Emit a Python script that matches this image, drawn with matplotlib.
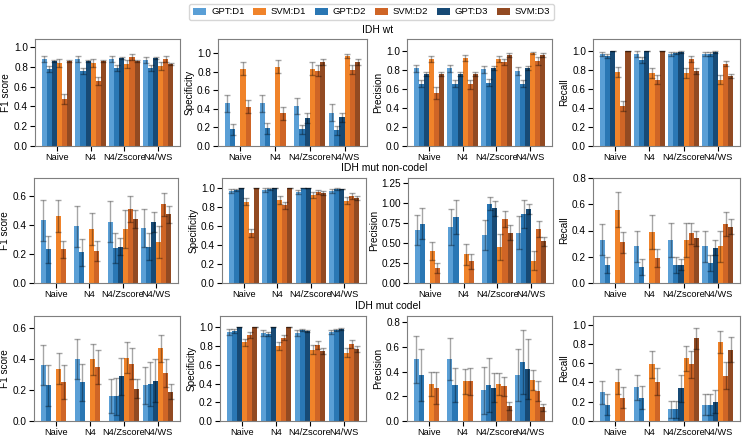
import numpy as np
import matplotlib
matplotlib.use("Agg")
from matplotlib import pyplot as plt
from matplotlib.ticker import MultipleLocator

plt.rcParams['font.family'] = ['Liberation Sans', 'DejaVu Sans']
plt.rcParams['font.size'] = 7.2
plt.rcParams['xtick.labelsize'] = 6.7
plt.rcParams['xtick.major.size'] = 3.5
plt.rcParams['ytick.major.size'] = 3.5
plt.rcParams['xtick.major.pad'] = 1.5
plt.rcParams['ytick.major.pad'] = 1.5

methods = ['Naive', 'N4', 'N4/Zscore', 'N4/WS']
series = ['GPT:D1', 'GPT:D2', 'GPT:D3', 'SVM:D1', 'SVM:D2', 'SVM:D3']
colors = ['#5a9fd6', '#2a77b4', '#174a75', '#f0832a', '#cf6526', '#924a22']
metrics = ['F1 score', 'Specificity', 'Precision', 'Recall']
row_titles = ['IDH wt', 'IDH mut non-codel', 'IDH mut codel']

# rows = methods, columns = series (GPT D1..D3, SVM D1..D3)
wt_f1 = [[0.88, 0.78, 0.86, 0.84, 0.47, 0.86],
         [0.88, 0.76, 0.86, 0.84, 0.66, 0.86],
         [0.88, 0.79, 0.89, 0.83, 0.90, 0.86],
         [0.87, 0.79, 0.89, 0.81, 0.88, 0.83]]
wt_f1_err = [[0.03, 0.03, 0.01, 0.04, 0.05, 0.01],
             [0.03, 0.03, 0.01, 0.04, 0.04, 0.01],
             [0.03, 0.03, 0.01, 0.04, 0.03, 0.01],
             [0.03, 0.03, 0.01, 0.04, 0.03, 0.01]]
wt_spec = [[0.46, 0.18, 0.00, 0.83, 0.42, 0.00],
           [0.46, 0.19, 0.00, 0.85, 0.35, 0.00],
           [0.43, 0.18, 0.30, 0.83, 0.81, 0.90],
           [0.36, 0.17, 0.31, 0.97, 0.82, 0.90]]
wt_spec_err = [[0.09, 0.06, 0.00, 0.07, 0.07, 0.00],
               [0.09, 0.06, 0.00, 0.07, 0.07, 0.00],
               [0.09, 0.05, 0.05, 0.07, 0.06, 0.03],
               [0.09, 0.05, 0.05, 0.02, 0.05, 0.03]]
wt_prec = [[0.82, 0.66, 0.76, 0.92, 0.56, 0.76],
           [0.82, 0.66, 0.76, 0.93, 0.65, 0.76],
           [0.81, 0.67, 0.82, 0.92, 0.89, 0.96],
           [0.79, 0.66, 0.82, 0.98, 0.90, 0.96]]
wt_prec_err = [[0.04, 0.04, 0.02, 0.03, 0.06, 0.02],
               [0.04, 0.04, 0.02, 0.03, 0.05, 0.02],
               [0.04, 0.04, 0.02, 0.03, 0.03, 0.02],
               [0.04, 0.04, 0.02, 0.01, 0.04, 0.02]]
wt_rec = [[0.97, 0.95, 1.00, 0.78, 0.42, 1.00],
          [0.97, 0.91, 1.00, 0.77, 0.70, 1.00],
          [0.97, 0.98, 0.99, 0.77, 0.92, 0.79],
          [0.97, 0.97, 0.99, 0.70, 0.87, 0.74]]
wt_rec_err = [[0.02, 0.02, 0.00, 0.05, 0.05, 0.00],
              [0.03, 0.03, 0.00, 0.05, 0.05, 0.00],
              [0.02, 0.01, 0.01, 0.05, 0.03, 0.03],
              [0.02, 0.02, 0.01, 0.05, 0.03, 0.02]]

nc_f1 = [[0.43, 0.23, 0.00, 0.46, 0.23, 0.00],
         [0.39, 0.21, 0.00, 0.37, 0.22, 0.00],
         [0.42, 0.24, 0.25, 0.37, 0.51, 0.44],
         [0.38, 0.25, 0.42, 0.28, 0.54, 0.47]]
nc_f1_err = [[0.14, 0.09, 0.00, 0.11, 0.06, 0.00],
             [0.14, 0.09, 0.00, 0.11, 0.07, 0.00],
             [0.14, 0.10, 0.06, 0.13, 0.09, 0.06],
             [0.13, 0.09, 0.07, 0.11, 0.08, 0.06]]
nc_spec = [[0.97, 0.98, 1.00, 0.86, 0.53, 1.00],
           [0.98, 0.99, 1.00, 0.88, 0.82, 1.00],
           [0.96, 1.00, 1.00, 0.93, 0.96, 0.95],
           [0.97, 0.99, 0.99, 0.87, 0.92, 0.90]]
nc_spec_err = [[0.02, 0.01, 0.00, 0.04, 0.04, 0.00],
               [0.02, 0.01, 0.00, 0.04, 0.04, 0.00],
               [0.02, 0.00, 0.00, 0.03, 0.02, 0.02],
               [0.02, 0.01, 0.00, 0.04, 0.03, 0.02]]
nc_prec = [[0.66, 0.74, 0.00, 0.40, 0.19, 0.00],
           [0.70, 0.82, 0.00, 0.36, 0.27, 0.00],
           [0.60, 0.99, 0.93, 0.45, 0.80, 0.63],
           [0.63, 0.86, 0.92, 0.28, 0.67, 0.52]]
nc_prec_err = [[0.19, 0.19, 0.00, 0.11, 0.06, 0.00],
               [0.22, 0.21, 0.00, 0.13, 0.09, 0.00],
               [0.19, 0.08, 0.09, 0.16, 0.10, 0.09],
               [0.21, 0.17, 0.06, 0.12, 0.10, 0.06]]
nc_rec = [[0.33, 0.14, 0.00, 0.56, 0.31, 0.00],
          [0.28, 0.12, 0.00, 0.39, 0.19, 0.00],
          [0.33, 0.14, 0.14, 0.33, 0.38, 0.34],
          [0.28, 0.15, 0.27, 0.28, 0.45, 0.43]]
nc_rec_err = [[0.12, 0.06, 0.00, 0.13, 0.08, 0.00],
              [0.12, 0.06, 0.00, 0.13, 0.07, 0.00],
              [0.13, 0.06, 0.04, 0.13, 0.08, 0.06],
              [0.12, 0.06, 0.06, 0.12, 0.09, 0.06]]

cd_f1 = [[0.36, 0.23, 0.00, 0.34, 0.25, 0.00],
         [0.40, 0.25, 0.00, 0.40, 0.35, 0.00],
         [0.16, 0.16, 0.29, 0.41, 0.37, 0.21],
         [0.23, 0.24, 0.26, 0.47, 0.31, 0.19]]
cd_f1_err = [[0.13, 0.13, 0.00, 0.10, 0.11, 0.00],
             [0.13, 0.12, 0.00, 0.10, 0.11, 0.00],
             [0.11, 0.12, 0.12, 0.10, 0.10, 0.06],
             [0.12, 0.14, 0.14, 0.09, 0.09, 0.05]]
cd_spec = [[0.95, 0.96, 1.00, 0.84, 0.92, 1.00],
           [0.94, 0.93, 1.00, 0.80, 0.89, 1.00],
           [0.94, 0.97, 0.96, 0.76, 0.81, 0.75],
           [0.95, 0.97, 0.98, 0.73, 0.82, 0.77]]
cd_spec_err = [[0.03, 0.02, 0.00, 0.04, 0.03, 0.00],
               [0.03, 0.02, 0.00, 0.04, 0.03, 0.00],
               [0.03, 0.01, 0.01, 0.05, 0.04, 0.03],
               [0.02, 0.01, 0.01, 0.05, 0.04, 0.03]]
cd_prec = [[0.50, 0.37, 0.00, 0.30, 0.27, 0.00],
           [0.50, 0.29, 0.00, 0.32, 0.32, 0.00],
           [0.25, 0.29, 0.27, 0.30, 0.28, 0.12],
           [0.37, 0.48, 0.42, 0.33, 0.24, 0.11]]
cd_prec_err = [[0.19, 0.21, 0.00, 0.10, 0.13, 0.00],
               [0.17, 0.14, 0.00, 0.10, 0.11, 0.00],
               [0.19, 0.22, 0.12, 0.09, 0.08, 0.03],
               [0.21, 0.26, 0.24, 0.08, 0.08, 0.03]]
cd_rec = [[0.30, 0.17, 0.00, 0.41, 0.24, 0.00],
          [0.35, 0.24, 0.00, 0.59, 0.41, 0.00],
          [0.12, 0.12, 0.34, 0.65, 0.59, 0.86],
          [0.17, 0.17, 0.20, 0.82, 0.47, 0.74]]
cd_rec_err = [[0.12, 0.11, 0.00, 0.13, 0.11, 0.00],
              [0.13, 0.12, 0.00, 0.14, 0.14, 0.00],
              [0.09, 0.09, 0.14, 0.13, 0.14, 0.11],
              [0.11, 0.11, 0.12, 0.11, 0.14, 0.13]]

panels = [[(wt_f1, wt_f1_err), (wt_spec, wt_spec_err), (wt_prec, wt_prec_err), (wt_rec, wt_rec_err)],
          [(nc_f1, nc_f1_err), (nc_spec, nc_spec_err), (nc_prec, nc_prec_err), (nc_rec, nc_rec_err)],
          [(cd_f1, cd_f1_err), (cd_spec, cd_spec_err), (cd_prec, cd_prec_err), (cd_rec, cd_rec_err)]]
ytops = [[1.08, 1.15, 1.13, 1.13],
         [0.72, 1.11, 1.31, 0.80],
         [0.68, 1.12, 0.85, 1.09]]
ysteps = [[0.2, 0.2, 0.2, 0.2],
          [0.2, 0.2, 0.25, 0.2],
          [0.2, 0.2, 0.2, 0.2]]

W, H = 743, 438
fig = plt.figure(figsize=(W / 100, H / 100), dpi=100)

# axes boxes in pixels: (left, right) per row/col, (top, bottom) per row
col_px = [[(35, 180), (218, 367), (407, 552), (593, 740)],
          [(34, 178), (222, 366), (408, 553), (593, 740)],
          [(34, 180), (220, 366), (407, 552), (593, 740)]]
row_px = [(39, 146), (178, 283), (316, 421)]
title_xy = [(378, 30), (384, 168), (388, 306)]

x = np.arange(len(methods))
width = 0.15
handles = {}
for r in range(3):
    top, bot = row_px[r]
    for c in range(4):
        l, rt = col_px[r][c]
        ax = fig.add_axes([l / W, 1 - bot / H, (rt - l) / W, (bot - top) / H])
        vals = np.array(panels[r][c][0])
        errs = np.array(panels[r][c][1])
        for j, s in enumerate(series):
            e = np.where(vals[:, j] > 0, errs[:, j], np.nan)
            b = ax.bar(x + (j - 2.5) * width, vals[:, j], width, yerr=e,
                       color=colors[j], label=s, capsize=2,
                       error_kw=dict(ecolor='black', alpha=0.35, elinewidth=1, capthick=1))
            handles[s] = b
        ax.set_xticks(x)
        ax.set_xticklabels(methods)
        ax.set_ylim(0, ytops[r][c])
        ax.yaxis.set_major_locator(MultipleLocator(ysteps[r][c]))
        if ysteps[r][c] == 0.25:
            ax.yaxis.set_major_formatter('{x:.2f}')
        else:
            ax.yaxis.set_major_formatter('{x:.1f}')
        ax.set_ylabel(metrics[c], labelpad=2)
        for sp in ax.spines.values():
            sp.set_color('#7f7f7f')
    tx, ty = title_xy[r]
    fig.text(tx / W, 1 - ty / H, row_titles[r], ha='center', va='center', fontsize=7.5)

order = ['GPT:D1', 'SVM:D1', 'GPT:D2', 'SVM:D2', 'GPT:D3', 'SVM:D3']
fig.legend([handles[s] for s in order], order, loc='center', ncol=6,
           bbox_to_anchor=(0.5, 1 - 12 / H), fontsize=6.8, frameon=True,
           handlelength=1.4, handletextpad=0.5, columnspacing=0.9)

fig.savefig('out.png', dpi=100)
